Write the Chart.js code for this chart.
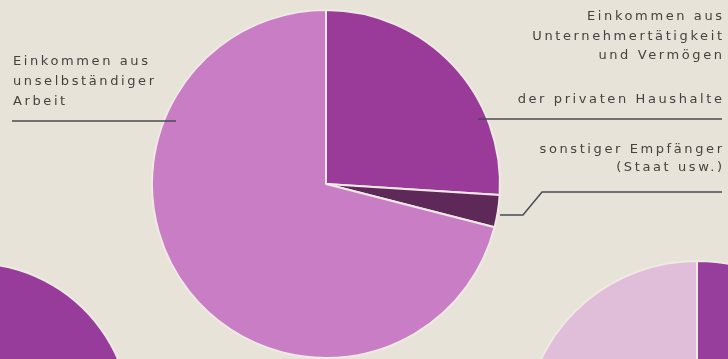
<!DOCTYPE html>
<html>
<head>
<meta charset="utf-8">
<script src="https://cdn.jsdelivr.net/npm/chart.js@4.4.0/dist/chart.umd.min.js"></script>
<style>
    html, body { margin: 0; padding: 0; }
    body { width: 728px; height: 359px; overflow: hidden; position: relative; background: #e7e3d9; }
    canvas { position: absolute; }
    #Verteilung { left: 0; top: 0; }
    #KreisLinks { left: -188px; top: 262px; }
    #KreisRechts { left: 523px; top: 260px; }
</style>
</head>
<body>
<canvas id="KreisLinks" width="320" height="320"></canvas>
<canvas id="KreisRechts" width="348" height="348"></canvas>
<canvas id="Verteilung" width="728" height="359"></canvas>

<script>
// Anteile am Volkseinkommen (in %)
const kategorien = ['Einkommen aus Unternehmertätigkeit und Vermögen der privaten Haushalte', 'sonstiger Empfänger (Staat usw.)', 'Einkommen aus unselbständiger Arbeit'];
const anteile = [26, 3, 71];
const farben = ['#9a3b9a', '#5e2858', '#c97dc5'];

// angeschnittene Kreise unten
const anteileLinks = [30, 70];
const farbenLinks = ['#983c9c', '#c97dc5'];
const anteileRechts = [28, 72];
const farbenRechts = ['#973d9b', '#e0bdd8'];

const textFarbe = '#46433f';
const linienFarbe = '#4a4a54';
const sperrung = 2.6;

// Beschriftungen: [text, x, grundlinie, ausrichtung]
const beschriftungen = [
    ['Einkommen aus', 13, 65, 'left'],
    ['unselbständiger', 13, 85, 'left'],
    ['Arbeit', 13, 105, 'left'],
    ['Einkommen aus', 722, 20, 'right'],
    ['Unternehmertätigkeit', 722, 40, 'right'],
    ['und Vermögen', 722, 59, 'right'],
    ['der privaten Haushalte', 722, 103, 'right'],
    ['sonstiger Empfänger', 722, 153, 'right'],
    ['(Staat usw.)', 722, 171, 'right']
];

// Hinweislinien
const linien = [
    [[12, 121], [176, 121]],
    [[478, 119], [722, 119]],
    [[500, 215], [523, 215], [542, 192], [722, 192]]
];

const beschriftungPlugin = {
    id: 'beschriftung',
    afterDatasetsDraw(chart) {
        const c = chart.ctx;
        c.save();
        c.strokeStyle = linienFarbe;
        c.lineWidth = 1.5;
        linien.forEach(function (l) {
            c.beginPath();
            c.moveTo(l[0][0], l[0][1]);
            for (let i = 1; i < l.length; i++) c.lineTo(l[i][0], l[i][1]);
            c.stroke();
        });
        c.fillStyle = textFarbe;
        c.font = '13px "DejaVu Sans", sans-serif';
        c.letterSpacing = sperrung + 'px';
        c.textBaseline = 'alphabetic';
        beschriftungen.forEach(function (b) {
            c.textAlign = b[3];
            // letterSpacing haengt auch hinter dem letzten Zeichen an
            let x = b[3] == 'right' ? b[1] + sperrung : b[1];
            c.fillText(b[0], x, b[2]);
        });
        c.restore();
    }
};

function kreis(el, werte, bunt) {
    return new Chart(document.getElementById(el), {
        type: 'pie',
        data: {
            labels: werte.map(function (w, i) { return String(i); }),
            datasets: [{
                data: werte,
                backgroundColor: bunt,
                borderColor: '#efe9e4',
                borderWidth: 2
            }]
        },
        options: {
            responsive: false,
            animation: false,
            events: [],
            plugins: { legend: { display: false }, tooltip: { enabled: false } }
        }
    });
}

kreis('KreisLinks', anteileLinks, farbenLinks);
kreis('KreisRechts', anteileRechts, farbenRechts);

// Hauptkreis
new Chart(document.getElementById('Verteilung'), {
    type: 'pie',
    data: {
        labels: kategorien,
        datasets: [{
            data: anteile,
            backgroundColor: farben,
            borderColor: '#efe9e4',
            borderWidth: 2
        }]
    },
    options: {
        responsive: false,
        animation: false,
        events: [],
        layout: { padding: { left: 150, right: 226, top: 9, bottom: 0 } },
        plugins: { legend: { display: false }, tooltip: { enabled: false } }
    },
    plugins: [beschriftungPlugin]
});
</script>
</body>
</html>
